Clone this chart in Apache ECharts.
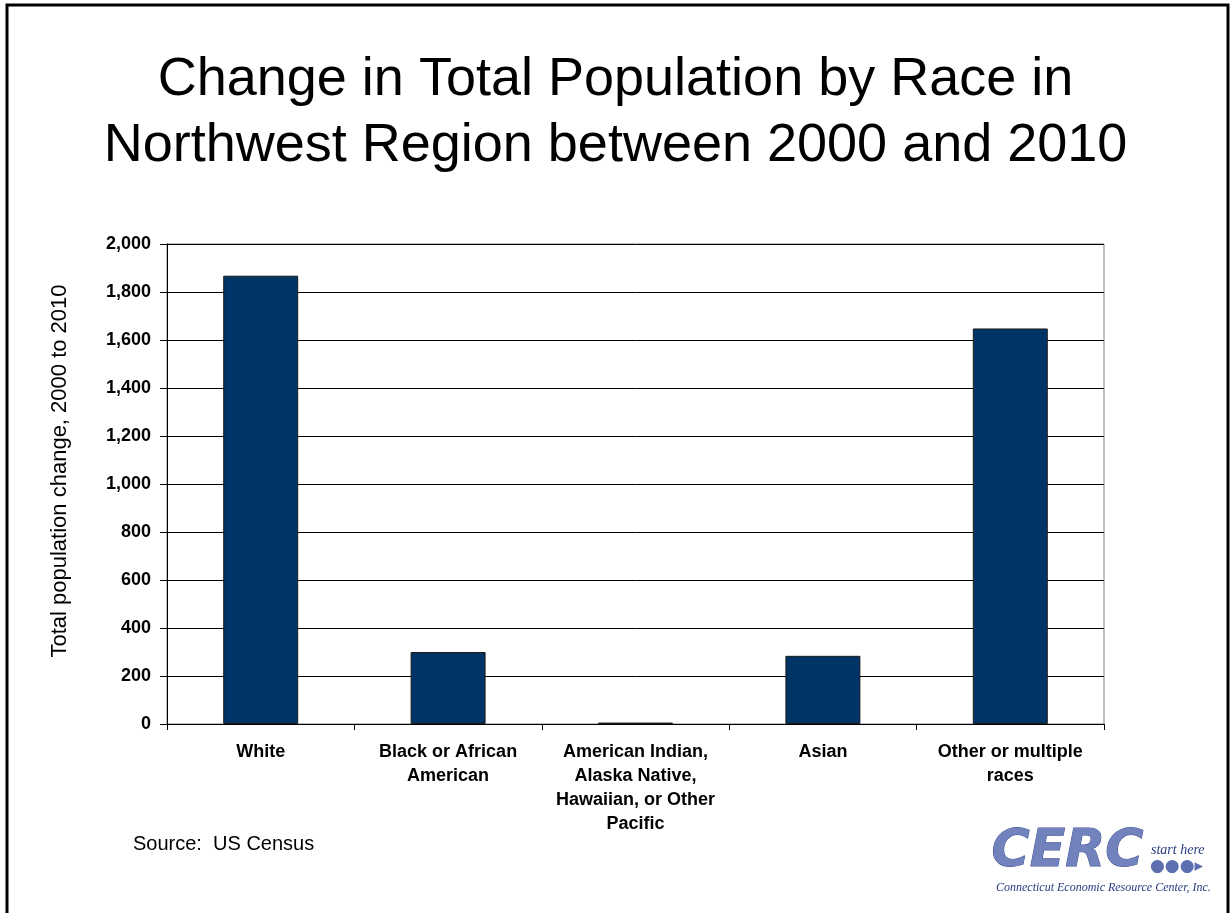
<!DOCTYPE html>
<html>
<head>
<meta charset="utf-8">
<script src="https://cdn.jsdelivr.net/npm/echarts@6/dist/echarts.min.js"></script>
<style>
  html, body { margin: 0; padding: 0; background: #fff; }
  #chart { width: 1231px; height: 913px; }
</style>
</head>
<body>
<div id="chart"></div>
<script>
const categories = [
  'White',
  'Black or African\nAmerican',
  'American Indian,\nAlaska Native,\nHawaiian, or Other\nPacific',
  'Asian',
  'Other or multiple\nraces',
];
const changeValues = [1868, 300, 6, 284, 1648];
const yTicks = [0, 200, 400, 600, 800, 1000, 1200, 1400, 1600, 1800, 2000];

const font = '"Liberation Sans", Arial, sans-serif';

const chart = echarts.init(document.getElementById('chart'));

const option = {
  backgroundColor: '#fff',
  animation: false,
  title: {
    text: 'Change in Total Population by Race in\nNorthwest Region between 2000 and 2010',
    left: 'center',
    top: 42,
    textStyle: {
      fontFamily: font,
      fontSize: 54,
      fontWeight: 'normal',
      color: '#000',
      lineHeight: 66,
    },
  },
  grid: {
    left: 167,
    right: 127,
    top: 244,
    bottom: 189,
    show: true,
    borderColor: '#808080',
    borderWidth: 1,
  },
  xAxis: {
    type: 'category',
    data: categories,
    axisLine: { lineStyle: { color: '#000', width: 1 } },
    axisTick: { show: true, length: 6, lineStyle: { color: '#000' } },
    axisLabel: {
      interval: 0,
      margin: 16,
      fontFamily: font,
      fontSize: 18,
      fontWeight: 'bold',
      color: '#000',
      lineHeight: 24,
    },
  },
  yAxis: {
    type: 'value',
    min: 0,
    max: 2000,
    interval: 200,
    name: 'Total population change, 2000 to 2010',
    nameLocation: 'middle',
    nameGap: 96,
    nameTextStyle: {
      fontFamily: font,
      fontSize: 22,
      color: '#000',
      padding: [0, 0, 0, 26],
    },
    axisLine: { show: true, lineStyle: { color: '#000', width: 1 } },
    axisTick: { show: true, length: 7, lineStyle: { color: '#000' } },
    splitLine: { lineStyle: { color: '#000', width: 1 } },
    axisLabel: {
      margin: 16,
      fontFamily: font,
      fontSize: 18,
      fontWeight: 'bold',
      color: '#000',
      formatter: (v) => (yTicks.includes(v) ? v.toLocaleString('en-US') : ''),
    },
  },
  series: [
    {
      type: 'bar',
      data: changeValues,
      barCategoryGap: '60%',
      itemStyle: {
        color: '#003366',
        borderColor: '#1a1a1a',
        borderWidth: 1,
      },
    },
  ],
  graphic: [
    {
      type: 'rect',
      shape: { x: 7, y: 5, width: 1221, height: 920 },
      style: { fill: 'none', stroke: '#000', lineWidth: 3 },
      silent: true,
    },
    {
      type: 'text',
      left: 133,
      top: 834,
      style: { text: 'Source:  US Census', font: '20px ' + font, fill: '#000' },
    },
    // logo drawn as text
    {
      type: 'text',
      left: 991,
      top: 826,
      style: {
        text: 'CERC',
        font: 'italic bold 52px "DejaVu Sans", sans-serif',
        fill: '#7282bd',
        stroke: '#3d4f92',
        lineWidth: 1,
      },
    },
    {
      type: 'text',
      left: 1151,
      top: 843,
      style: { text: 'start here', font: 'italic 14px "Liberation Serif", serif', fill: '#2a3a80' },
    },
    {
      type: 'text',
      left: 1150,
      top: 858,
      style: { text: '●●●▸', font: '17px "DejaVu Sans", sans-serif', fill: '#5d6fb0' },
    },
    {
      type: 'text',
      left: 996,
      top: 882,
      style: {
        text: 'Connecticut Economic Resource Center, Inc.',
        font: 'italic 12px "Liberation Serif", serif',
        fill: '#2a3a80',
      },
    },
  ],
};

chart.setOption(option);
</script>
</body>
</html>
